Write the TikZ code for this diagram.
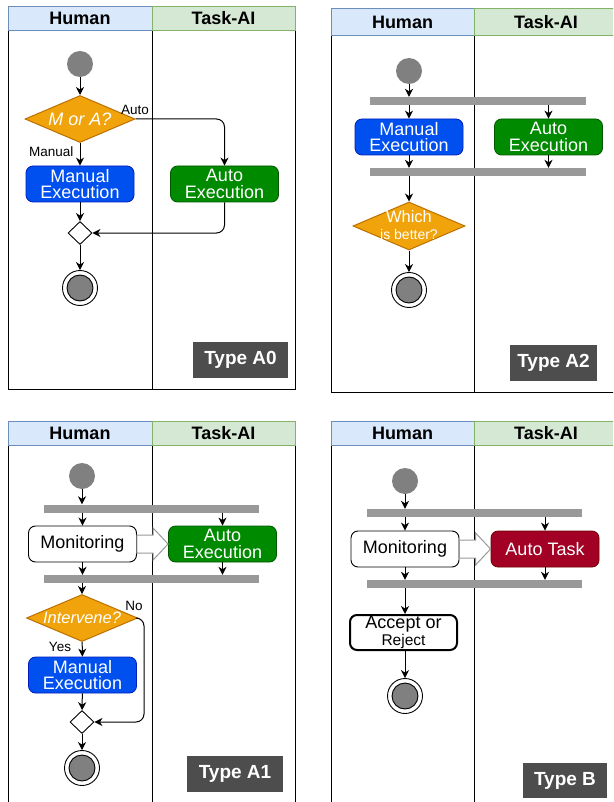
\documentclass[tikz,border=0pt]{standalone}
\usepackage{fontspec}
\setmainfont{Liberation Sans}
\usetikzlibrary{shapes.geometric,arrows.meta,calc}
\definecolor{hblue}{HTML}{DAE8FC}
\definecolor{hbluel}{HTML}{6C8EBF}
\definecolor{hgreen}{HTML}{D5E8D4}
\definecolor{hgreenl}{HTML}{82B366}
\definecolor{manf}{HTML}{0050EF}
\definecolor{mand}{HTML}{001DBC}
\definecolor{autof}{HTML}{008A00}
\definecolor{autod}{HTML}{005700}
\definecolor{decf}{HTML}{F0A30A}
\definecolor{decd}{HTML}{BD7000}
\definecolor{taskf}{HTML}{A20025}
\definecolor{taskd}{HTML}{6F0000}
\definecolor{barc}{HTML}{999999}
\definecolor{dotc}{HTML}{808080}
\definecolor{typef}{HTML}{4D4D4D}
\tikzset{
 mainf/.style={font=\fontsize{18}{16.5}\selectfont},
 box/.style={rounded corners=7pt, minimum width=108pt, minimum height=36pt, inner sep=0pt, align=center, mainf},
 manbox/.style={box, fill=manf, draw=mand, line width=0.8pt, text=white},
 autobox/.style={box, fill=autof, draw=autod, line width=0.8pt, text=white},
 taskbox/.style={box, fill=taskf, draw=taskd, line width=0.8pt, text=white},
 monbox/.style={box, fill=white, draw=black, line width=0.9pt},
 decision/.style={diamond, fill=decf, draw=decd, line width=1pt, inner sep=0pt, minimum width=110pt, minimum height=47pt},
 dtext/.style={text=white, mainf, align=center, inner sep=0pt},
 merge/.style={diamond, fill=white, draw=black, line width=0.9pt, minimum width=24pt, minimum height=23pt, inner sep=0pt},
 startc/.style={circle, fill=dotc, minimum size=26pt, inner sep=0pt},
 endc/.style={circle, draw=black, fill=white, line width=0.9pt, minimum size=35pt, inner sep=0pt,
   path picture={\draw[fill=dotc, line width=0.9pt] (path picture bounding box.center) circle (13pt);}},
 bar/.style={fill=barc, minimum width=216pt, minimum height=8pt, inner sep=0pt},
 arr/.style={-{Stealth[length=8pt,width=8pt,inset=2.5pt]}, line width=1pt},
 lbl/.style={font=\fontsize{13.5}{14}\selectfont, inner sep=0pt},
 hdrh/.style={fill=hblue, draw=hbluel, line width=1pt, font=\fontsize{18}{18}\selectfont\bfseries, inner sep=0pt},
 hdrt/.style={fill=hgreen, draw=hgreenl, line width=1pt, font=\fontsize{18}{18}\selectfont\bfseries, inner sep=0pt},
 typelbl/.style={fill=typef, text=white, font=\fontsize{19}{19}\selectfont\bfseries, inner sep=0pt},
 hollow/.style={draw=barc, fill=white, line width=1pt, line join=miter},
 lane/.style={line width=1pt, draw=black}
}
\begin{document}
\begin{tikzpicture}[x=1pt,y=-1pt]
\useasboundingbox (0,0) rectangle (613,802);
\clip (0,0) rectangle (613,802);
\fill[white] (0,0) rectangle (613,802);

% ================= Panel A0 =================
\draw[lane] (8,30.5) -- (8,389) -- (295,389) -- (295,30.5);
\draw[lane] (152,30.5) -- (152,389);
\node[hdrh, minimum width=144pt, minimum height=24.5pt] (h0) at (80,18.3) {Human};
\node[hdrt, minimum width=143pt, minimum height=24.5pt] (t0) at (223.5,18.3) {Task-AI};

\node[startc] (s0) at (80,64) {};
\node[decision] (d0) at (80,119) {};
\node[dtext] (d0t) at (d0.center) {\itshape M or A?};
\node[manbox] (m0) at (80,184) {Manual\\Execution};
\node[autobox] (a0) at (224.5,184) {Auto\\Execution};
\node[merge] (j0) at (80,233) {};
\node[endc] (e0) at (80,288) {};
\node[typelbl, minimum width=95pt, minimum height=36pt] (ty0) at (240.5,360) {Type A0};

\draw[arr] (s0) -- (d0);
\draw[arr] (d0) -- (m0);
\draw[arr, rounded corners=8pt] (d0.east) -| (a0.north);
\draw[arr] (m0) -- (j0);
\draw[arr, rounded corners=8pt] (a0.south) |- (j0.east);
\draw[arr] (j0) -- (e0);
\node[lbl, anchor=east] (lm0) at (73.5,152) {Manual};
\node[lbl] (la0) at (135,110) {Auto};

% ================= Panel A2 =================
\draw[lane] (331,36) -- (331,392) -- (620,392);
\draw[lane] (474,36) -- (474,392);
\node[hdrh, minimum width=143pt, minimum height=27pt] (h2) at (402.5,22.5) {Human};
\node[hdrt, minimum width=144pt, minimum height=27pt] (t2) at (546,22.5) {Task-AI};

\node[startc] (s2) at (409,71) {};
\node[bar] (f2) at (478,101) {};
\node[manbox] (m2) at (409,137) {Manual\\Execution};
\node[autobox] (a2) at (548.5,137) {Auto\\Execution};
\node[bar] (g2) at (478,172) {};
\node[decision, minimum width=112pt, minimum height=48pt] (d2) at (409,226) {};
\node[dtext] (d2t) at (409,225)
  {\fontsize{16.5}{15.5}\selectfont Which\\\fontsize{14}{15.5}\selectfont is better?};
\node[endc] (e2) at (409,290) {};
\node[typelbl, minimum width=87pt, minimum height=36pt] (ty2) at (553.5,363) {Type A2};

\draw[arr] (s2) -- (s2 |- f2.north);
\draw[arr] (f2.south -| m2) -- (m2.north);
\draw[arr] (f2.south -| a2) -- (a2.north);
\draw[arr] (m2.south) -- (m2 |- g2.north);
\draw[arr] (a2.south) -- (a2 |- g2.north);
\draw[arr] (g2.south -| d2) -- (d2.north);
\draw[arr] (d2) -- (e2);

% ================= Panel A1 =================
\draw[lane] (8,446) -- (8,810);
\draw[lane] (152,446) -- (152,810);
\draw[lane] (295,446) -- (295,810);
\node[hdrh, minimum width=144pt, minimum height=24.5pt] (h1) at (80,433.5) {Human};
\node[hdrt, minimum width=143pt, minimum height=24.5pt] (t1) at (223.5,433.5) {Task-AI};

\node[startc] (s1) at (82,476) {};
\node[bar, minimum width=215pt] (f1) at (151.5,508.5) {};
\node[monbox] (mon1) at (82.5,544) {Monitoring};
\node[autobox] (a1) at (222.5,544) {Auto\\Execution};
\node[bar, minimum width=215pt] (g1) at (151.5,579) {};
\node[decision, minimum width=111pt] (d1) at (82,618) {};
\node[dtext] (d1t) at (d1.center) {\fontsize{16.5}{16.5}\selectfont\itshape Intervene?};
\node[manbox] (man1) at (82.5,675) {Manual\\Execution};
\node[merge] (jm1) at (82,722) {};
\node[endc] (e1) at (82,768) {};
\node[typelbl, minimum width=96pt, minimum height=36pt] (ty1) at (235,774) {Type A1};

\draw[arr] (s1) -- (s1 |- f1.north);
\draw[arr] (f1.south -| mon1) -- (mon1.north);
\draw[arr] (f1.south -| a1) -- (a1.north);
\draw[hollow] ($(mon1.east)+(0,-9)$) -- ($(a1.west)+(-15,-9)$) -- ($(a1.west)+(-15,-16)$)
  -- (a1.west) -- ($(a1.west)+(-15,16)$) -- ($(a1.west)+(-15,9)$) -- ($(mon1.east)+(0,9)$) -- cycle;
\draw[arr] (mon1.south) -- (mon1 |- g1.north);
\draw[arr] (a1.south) -- (a1 |- g1.north);
\draw[arr] (g1.south -| d1) -- (d1.north);
\draw[arr] (d1) -- (man1);
\draw[arr, rounded corners=8pt] (d1.east) -- ++(6,0) |- (jm1.east);
\draw[arr] (man1) -- (jm1);
\draw[arr] (jm1) -- (e1);
\node[lbl] (ly1) at (60,647) {Yes};
\node[lbl] (ln1) at (134,606) {No};

% ================= Panel B =================
\draw[lane] (331,445) -- (331,810);
\draw[lane] (474,445) -- (474,810);
\node[hdrh, minimum width=143pt, minimum height=23.5pt] (hb) at (402.5,433.5) {Human};
\node[hdrt, minimum width=144pt, minimum height=23.5pt] (tb) at (546,433.5) {Task-AI};

\node[startc] (sb) at (405,481) {};
\node[bar, minimum width=215pt] (fb) at (474.5,513) {};
\node[monbox] (monb) at (405,549) {Monitoring};
\node[taskbox] (ab) at (545,549) {Auto Task};
\node[bar, minimum width=215pt] (gb) at (474.5,584) {};
\node[box, fill=white, draw=black, line width=2pt, minimum width=107pt, minimum height=35pt] (accb) at (403.5,632.5)
  {Accept or\\{\fontsize{15.5}{15}\selectfont Reject}};
\node[endc] (eb) at (405,696) {};
\node[typelbl, minimum width=84pt, minimum height=35pt] (tyb) at (565,780.5) {Type B};

\draw[arr] (sb) -- (sb |- fb.north);
\draw[arr] (fb.south -| monb) -- (monb.north);
\draw[arr] (fb.south -| ab) -- (ab.north);
\draw[hollow] ($(monb.east)+(0,-9)$) -- ($(ab.west)+(-15,-9)$) -- ($(ab.west)+(-15,-16)$)
  -- (ab.west) -- ($(ab.west)+(-15,16)$) -- ($(ab.west)+(-15,9)$) -- ($(monb.east)+(0,9)$) -- cycle;
\draw[arr] (monb.south) -- (monb |- gb.north);
\draw[arr] (ab.south) -- (ab |- gb.north);
\draw[arr] (gb.south -| eb) -- (accb.north -| eb);
\draw[arr] (accb.south -| eb) -- (eb.north);
\end{tikzpicture}
\end{document}
